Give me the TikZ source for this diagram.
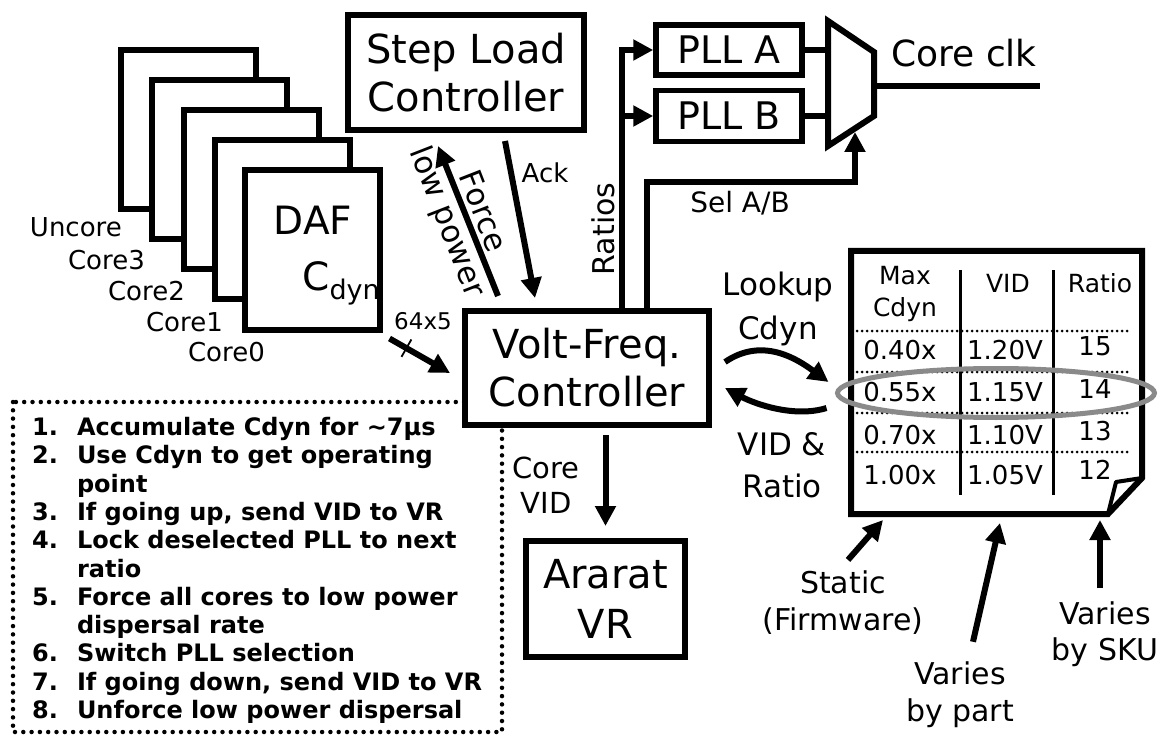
\documentclass[tikz,border=0pt]{standalone}
\usepackage{fontspec}
\setmainfont{DejaVu Sans}
\usetikzlibrary{arrows.meta,calc,shapes.geometric}
\definecolor{ink}{HTML}{000000}
\definecolor{ring}{HTML}{8A8A8A}
\newcommand{\fsz}[2]{\fontsize{#1}{#2}\selectfont}
\tikzset{
  blk/.style={draw=ink, line width=6pt, fill=white, inner sep=0pt, align=center},
  corebox/.style={blk, minimum width=135pt, minimum height=159pt},
  wire/.style={draw=ink, line width=6pt},
  arr/.style={wire, -{Triangle[length=20pt,width=20pt]}},
  lbl/.style={inner sep=0pt, align=center, text=ink},
  coldiv/.style={draw=ink, line width=3pt},
  tbldots/.style={draw=ink, line width=3pt, line cap=round, dash pattern=on 0pt off 5pt},
  listdots/.style={draw=ink, line width=4.5pt, line cap=round, dash pattern=on 0pt off 8.3pt}
}

\begin{document}
\begin{tikzpicture}[x=1pt,y=-1pt]
    \fill[white] (0,0) rectangle (1168,738);
    \useasboundingbox (0,0) rectangle (1168,738);

    \node[corebox] (uncore) at (188,130) {};
    \node[corebox] (core3) at (219,160) {};
    \node[corebox] (core2) at (251,190) {};
    \node[corebox] (core1) at (282,220) {};
    \node[corebox] (core0) at (312,250) {};
    \node[lbl, font=\fsz{39}{39}] (daf) at (313,220) {DAF};
    \node[lbl, font=\fsz{39}{39}] (cdyn) at (341,283) {C\raisebox{-9pt}{\fsz{27}{27}dyn}};
    \node[lbl, anchor=east, font=\fsz{26}{26}] (lunc) at (122,227) {Uncore};
    \node[lbl, anchor=east, font=\fsz{26}{26}] (lc3) at (145,260) {Core3};
    \node[lbl, anchor=east, font=\fsz{26}{26}] (lc2) at (185,291) {Core2};
    \node[lbl, anchor=east, font=\fsz{26}{26}] (lc1) at (223,322) {Core1};
    \node[lbl, anchor=east, font=\fsz{26}{26}] (lc0) at (265,352) {Core0};

    \draw[listdots] (13,402) rectangle (502,732);
    \node[inner sep=0pt, anchor=base west, text=ink, font=\fsz{24}{28.3}\bfseries] (steps) at (32,435.5) {%
      \begin{tabular}[t]{@{}l@{\hspace{19pt}}l@{}}
        1. & Accumulate Cdyn for \textasciitilde7µs\\
        2. & Use Cdyn to get operating\\
           & point\\
        3. & If going up, send VID to VR\\
        4. & Lock deselected PLL to next\\
           & ratio\\
        5. & Force all cores to low power\\
           & dispersal rate\\
        6. & Switch PLL selection\\
        7. & If going down, send VID to VR\\
        8. & Unforce low power dispersal
      \end{tabular}};

    \node[blk, minimum width=236pt, minimum height=115pt, font=\fsz{40}{48}] (slc) at (466,72.5) {Step Load\\Controller};
    \node[blk, minimum width=244pt, minimum height=114pt, font=\fsz{40}{48}] (vfc) at (587,368) {Volt-Freq.\\Controller};
    \node[blk, minimum width=159pt, minimum height=116pt, font=\fsz{40}{50}] (vr) at (605.5,599) {Ararat\\VR};
    \node[blk, line width=5.5pt, minimum width=146pt, minimum height=50pt, font=\fsz{38}{38}] (plla) at (729,50) {PLL A};
    \node[blk, line width=5.5pt, minimum width=146pt, minimum height=51pt, font=\fsz{38}{38}] (pllb) at (729,116) {PLL B};

    \coordinate (muxa) at (828,50);
    \coordinate (muxb) at (828,116);
    \coordinate (muxout) at (874,86);
    \coordinate (muxsel) at (855,132);
    \coordinate (clkend) at (1040,86);
    \coordinate (selbend) at (750,182);
    \coordinate (ratsplit) at (622,116);

    \draw[wire] (plla.east) -- (muxa);
    \draw[wire] (pllb.east) -- (muxb);
    \draw[wire, line join=miter, fill=white] (828,21) -- (874,52) -- (874,116) -- (828,146) -- cycle;
    \draw[wire] (muxout) -- (clkend);
    \node[lbl, font=\fsz{36}{36}] (clk) at (964,53) {Core clk};

    \draw[arr] ([xshift=35pt]vfc.north) |- (plla.west);
    \draw[arr] (ratsplit) -- (pllb.west);
    \node[lbl, rotate=90, font=\fsz{30}{30}] (ratios) at (603,229) {Ratios};
    \draw[arr] ([xshift=60pt]vfc.north) |- (selbend) -| (muxsel);
    \node[lbl, font=\fsz{28}{28}] (sel) at (740,203) {Sel A/B};

    \draw[arr] ([xshift=-89pt,yshift=12pt]vfc.north) -- ([xshift=-28pt,yshift=-13pt]slc.south);
    \node[lbl, rotate=-68.7, font=\fsz{31}{31}] (force) at (484,211) {Force};
    \node[lbl, rotate=-68.7, font=\fsz{31}{31}] (lowpow) at (446,222) {low power};
    \draw[arr] ([xshift=39pt,yshift=-8pt]slc.south) -- ([xshift=-52pt,yshift=10pt]vfc.north);
    \node[lbl, font=\fsz{26}{26}] (ack) at (545,173) {Ack};

    \coordinate (busa) at ([xshift=7pt,yshift=-6pt]core0.south east);
    \coordinate (busb) at ([xshift=-12pt,yshift=-5pt]vfc.west);
    \draw[arr] (busa) -- (busb);
    \draw[draw=ink, line width=1.8pt] ($(busa)!0.28!(busb)!10pt!90:(busb)$) -- ($(busa)!0.28!(busb)!10pt!-90:(busb)$);
    \node[lbl, font=\fsz{23}{23}] (bus) at (423,321) {64x5};

    \draw[arr] ([yshift=103pt]vr.north) -- ([yshift=12pt]vr.north);
    \node[lbl, font=\fsz{29}{35}] (corevid) at (546,485) {Core\\VID};

    \draw[wire, line join=miter] (851,251) -- (1142,251) -- (1142,478) -- (1108,514) -- (851,514) -- cycle;
    \draw[draw=ink, line width=4pt, line join=round] (1108,514) -- (1116,482) -- (1142,478);
    \draw[coldiv] (960,270) -- (960,495);
    \draw[coldiv] (1053,270) -- (1053,495);
    \draw[tbldots] (857,331) -- (1128,331);
    \draw[tbldots] (857,372) -- (1128,372);
    \draw[tbldots] (857,413) -- (1128,413);
    \draw[tbldots] (857,452) -- (1128,452);
    \node[lbl, font=\fsz{25}{32}] (hmax) at (905,294) {Max\\Cdyn};
    \node[lbl, font=\fsz{25}{25}] (hvid) at (1008,283) {VID};
    \node[lbl, font=\fsz{25}{25}] (hrat) at (1100,283) {Ratio};
    \node[lbl, font=\fsz{26}{26}] (cd1) at (900,350) {0.40x};
    \node[lbl, font=\fsz{26}{26}] (cd2) at (900,392) {0.55x};
    \node[lbl, font=\fsz{26}{26}] (cd3) at (900,435) {0.70x};
    \node[lbl, font=\fsz{26}{26}] (cd4) at (900,475) {1.00x};
    \node[lbl, font=\fsz{26}{26}] (vd1) at (1005,350) {1.20V};
    \node[lbl, font=\fsz{26}{26}] (vd2) at (1005,392) {1.15V};
    \node[lbl, font=\fsz{26}{26}] (vd3) at (1005,435) {1.10V};
    \node[lbl, font=\fsz{26}{26}] (vd4) at (1005,475) {1.05V};
    \node[lbl, font=\fsz{26}{26}] (rt1) at (1095,346) {15};
    \node[lbl, font=\fsz{26}{26}] (rt2) at (1095,389) {14};
    \node[lbl, font=\fsz{26}{26}] (rt3) at (1095,431) {13};
    \node[lbl, font=\fsz{26}{26}] (rt4) at (1095,470) {12};
    \node[draw=ring, line width=5pt, ellipse, minimum width=317pt, minimum height=49pt, inner sep=0pt] (hl) at (996,393) {};

    \draw[arr] ([xshift=13pt,yshift=6pt]vfc.east) .. controls +(38,-26) and +(-30,-22) .. ([xshift=-6.5pt,yshift=11pt]hl.west);
    \draw[arr] ([xshift=-8.5pt,yshift=-15pt]hl.west) .. controls +(-32,10) and +(30,16) .. ([xshift=13pt,yshift=-20pt]vfc.east);
    \node[lbl, font=\fsz{31}{44}] (lookup) at (778,309) {Lookup\\Cdyn};
    \node[lbl, font=\fsz{31}{42}] (vidrat) at (782,465) {VID \&\\Ratio};

    \coordinate (fwpt) at (883,520);
    \coordinate (partpt) at (1000,523);
    \coordinate (skupt) at (1100,520);
    \node[lbl, font=\fsz{30}{37}] (static) at (843,603) {Static\\(Firmware)};
    \node[lbl, font=\fsz{30}{37}] (bypart) at (960,695) {Varies\\by part};
    \node[lbl, font=\fsz{30}{36}] (bysku) at (1105,634) {Varies\\by SKU};
    \draw[arr] ([xshift=5pt,yshift=11pt]static.north) -- (fwpt);
    \draw[arr] ([xshift=13pt,yshift=20pt]bypart.north) -- (partpt);
    \draw[arr] ([xshift=-5pt,yshift=13pt]bysku.north) -- (skupt);
  \end{tikzpicture}
\end{document}
